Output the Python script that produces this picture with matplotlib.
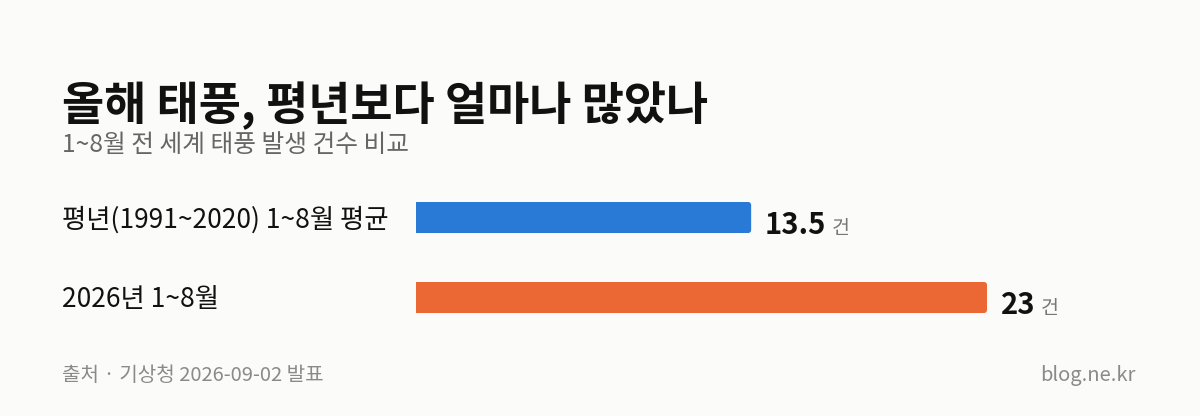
import matplotlib
matplotlib.use("Agg")
import matplotlib.pyplot as plt
from matplotlib import transforms
from matplotlib.patches import FancyBboxPatch

plt.rcParams['font.family'] = ['Noto Sans CJK KR', 'DejaVu Sans']

title = "올해 태풍, 평년보다 얼마나 많았나"
subtitle = "1~8월 전 세계 태풍 발생 건수 비교"
categories = ["평년(1991~2020) 1~8월 평균", "2026년 1~8월"]
values = [13.5, 23]
value_labels = ["13.5", "23"]
unit = "건"
colors = ["#2979d6", "#eb6835"]
source = "출처 · 기상청 2026-09-02 발표"
credit = "blog.ne.kr"

W, H = 1200, 416
bg = "#fbfbf9"
fig = plt.figure(figsize=(W / 100, H / 100), dpi=100, facecolor=bg)

def fx(px):
    return px / W

def fy(py):
    return 1 - py / H

fig.text(fx(62), fy(120), title, fontsize=33, fontweight='bold', color="#111111", va='baseline')
fig.text(fx(62), fy(152), subtitle, fontsize=17.8, color="#666666", va='baseline')

ax_left, ax_right, ax_top, ax_bot = 416, 1136, 180, 340
ax = fig.add_axes([fx(ax_left), fy(ax_bot), fx(ax_right - ax_left), (ax_bot - ax_top) / H])
ax.set_facecolor(bg)
ypos = list(range(len(categories)))
bars = ax.barh(ypos, values, height=0.3875, color=colors, edgecolor='none')
ax.set_xlim(0, (ax_right - ax_left) / (571 / 23))
ax.set_ylim(1.53125, -0.46875)
ax.axis('off')

# replace bars with rounded-end versions (left end hidden by axes clip)
r = 0.12
for b in bars:
    x0, y0 = b.get_x(), b.get_y()
    w, h = b.get_width(), b.get_height()
    b.set_visible(False)
    p = FancyBboxPatch((x0 - r * 2, y0), w + r * 2, h,
                       boxstyle=f"round,pad=0,rounding_size={r}",
                       mutation_aspect=0.3125, facecolor=b.get_facecolor(),
                       edgecolor='none')
    ax.add_patch(p)
    p.set_clip_path(ax.patch)

blend = transforms.blended_transform_factory(fig.transFigure, ax.transData)
for y, cat in zip(ypos, categories):
    ax.text(fx(62), y + 0.03, cat, transform=blend, fontsize=19, fontweight='medium',
            color="#111111", va='center', ha='left')

for y, v, lab in zip(ypos, values, value_labels):
    t1 = ax.annotate(lab, xy=(v, y + 0.21), xycoords='data', xytext=(10, 0),
                     textcoords='offset points', fontsize=21, fontweight='bold',
                     color="#111111", va='baseline', ha='left')
    ax.annotate(unit, xy=(1, y + 0.21), xycoords=(t1, 'data'), xytext=(4, 0),
                textcoords='offset points', fontsize=14, color="#777777",
                va='baseline', ha='left')

fig.text(fx(62), fy(381), source, fontsize=14.5, color="#8a8a8a", va='baseline')
fig.text(fx(1136), fy(381), credit, fontsize=14.5, color="#8a8a8a", va='baseline', ha='right')

fig.savefig("out.png", dpi=100, facecolor=bg)
